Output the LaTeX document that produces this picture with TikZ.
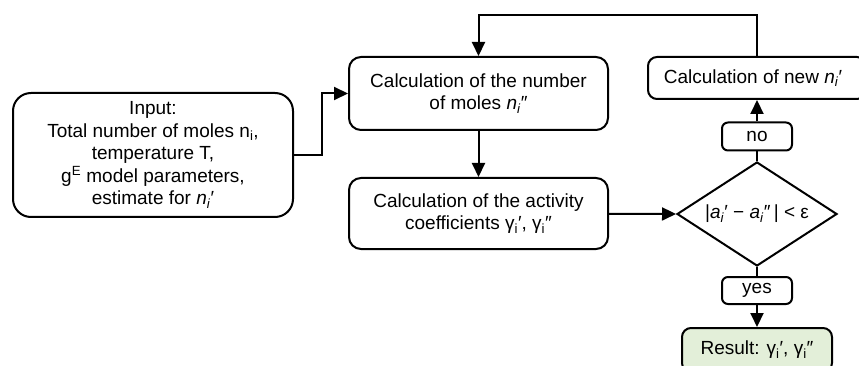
\documentclass[tikz,border=0pt]{standalone}
\usepackage{fontspec}
\setmainfont{Liberation Sans}
\usetikzlibrary{shapes.geometric,arrows.meta}

% italic symbol with italic subscript, and upright-subscript gamma
\newcommand\nsub[1]{\textit{#1}\textsubscript{\textit{i}}}
\newcommand\gsub{γ\textsubscript{i}}

\begin{document}
\begin{tikzpicture}[x=1pt,y=-1pt,
  line width=2pt,
  every node/.style={font=\fontsize{19}{22.5}\selectfont, align=center, inner sep=0pt},
  procbox/.style={draw, rounded corners=12pt, minimum width=#1},
  tagbox/.style={draw, rounded corners=6pt, minimum width=70pt, minimum height=28pt},
  decision/.style={draw, diamond, aspect=1.54, minimum width=160pt, minimum height=104pt, inner sep=0pt},
  flow/.style={-{Triangle[length=14pt,width=13pt]}},
]
\useasboundingbox (0,0) rectangle (859,366);

% input data
\node[procbox=280pt, minimum height=124pt, rounded corners=18pt] (input) at (153,155)
  {\raisebox{-3pt}{\parbox{270pt}{\centering Input:\\Total number of moles n\textsubscript{i},\\temperature T,\\g\textsuperscript{E} model parameters,\\estimate for \nsub{n}′}}};

% main calculation chain
\node[procbox=259pt, minimum height=73pt] (moles) at (478.5,93.5)
  {Calculation of the number\\of moles \nsub{n}″};
\node[procbox=259pt, minimum height=71pt] (activity) at (478.5,213.5)
  {Calculation of the activity\\coefficients \gsub′, \gsub″};

% convergence test and branches
\node[decision] (test) at (757,214) {|\nsub{a}′ − \nsub{a}″\,| < ε};
\node[tagbox] (no) at (757,136.5) {no};
\node[procbox=218pt, minimum height=42pt, rounded corners=9pt] (newn) at (757,78)
  {Calculation of new \nsub{n}′\hspace*{8pt}};
\node[tagbox, minimum height=27pt] (yes) at (757,290.5) {yes};
\node[procbox=150pt, minimum height=44pt, rounded corners=9pt, fill={rgb,255:red,227;green,239;blue,217}] (result) at (757,350)
  {Result: \gsub′, \gsub″};

% connectors
\draw[flow] (input.east) -- ++(28,0) |- (moles.west);
\draw[flow] (moles) -- (activity);
\draw[flow] (activity) -- (test.west);
\draw (test.north) -- (no.south);
\draw[flow] (no) -- (newn.south -| no);
\coordinate (loop) at (757,15);
\draw[flow] (newn.north -| no) -- (loop) -| (moles.north);
\draw (test.south) -- (yes.north);
\draw[flow] (yes) -- (result);
\end{tikzpicture}
\end{document}
